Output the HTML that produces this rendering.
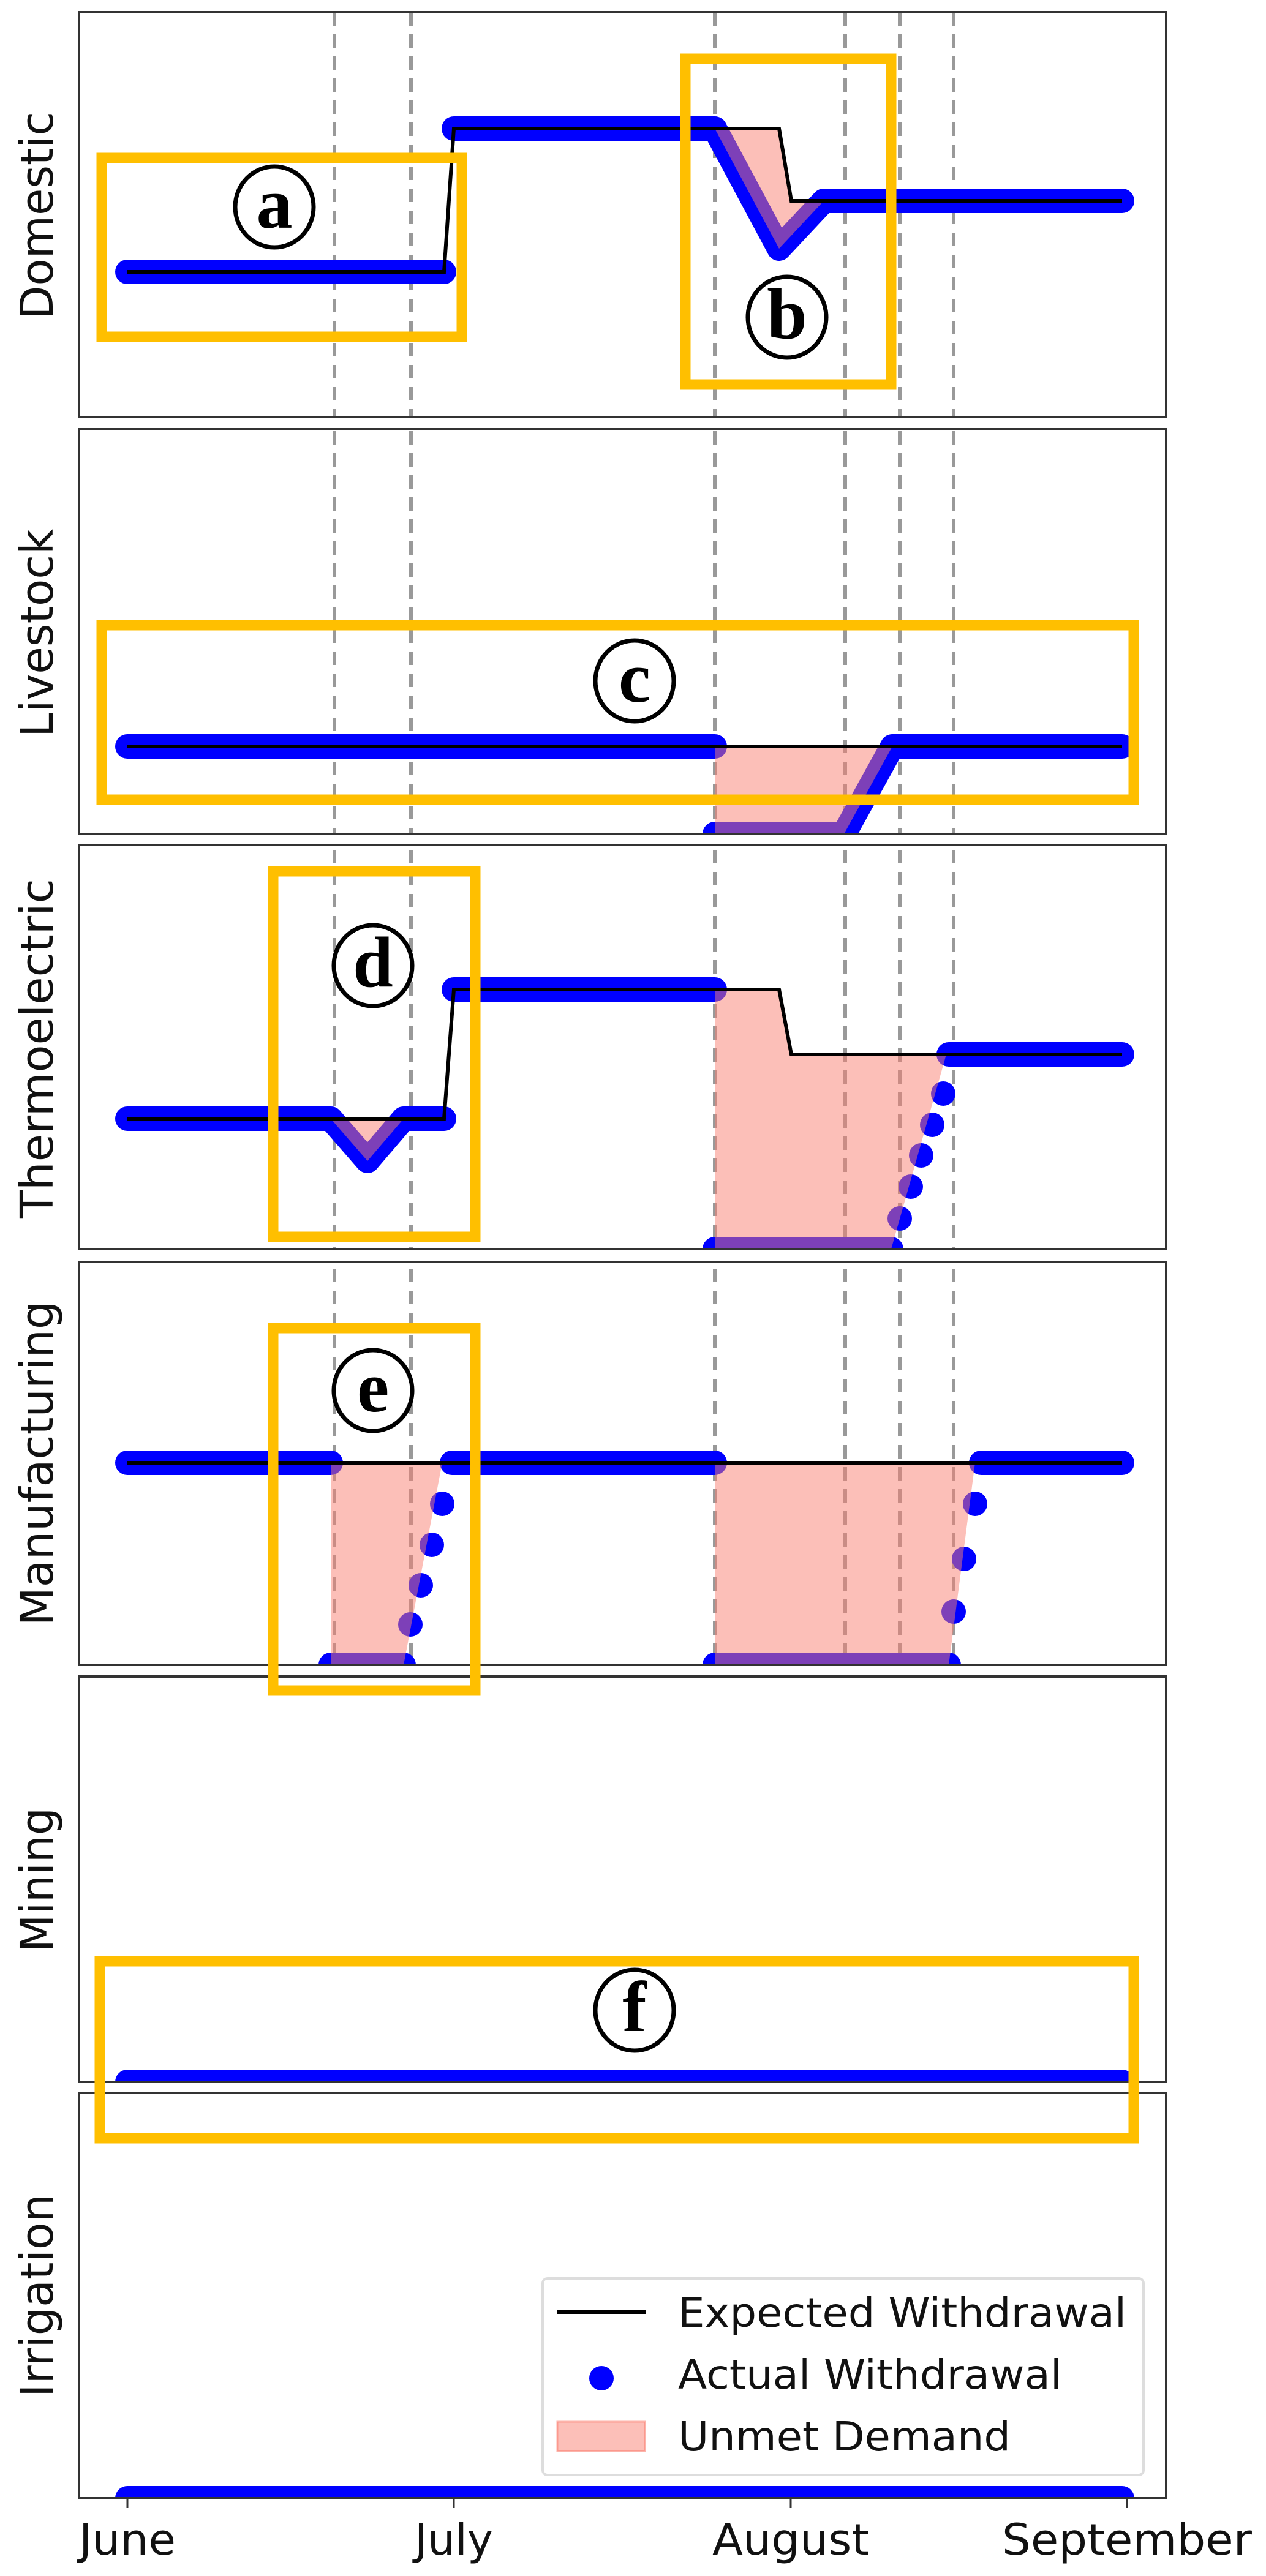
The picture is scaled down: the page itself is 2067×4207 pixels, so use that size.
<!DOCTYPE html>
<html><head><meta charset="utf-8"><style>html,body{margin:0;padding:0;background:#fff}svg{display:block}</style></head>
<body>
<svg width="2067" height="4207" viewBox="0 0 2067 4207" xmlns="http://www.w3.org/2000/svg">
<defs>
<clipPath id="c1"><rect x="129" y="20" width="1775" height="661"/></clipPath>
<clipPath id="c2"><rect x="129" y="701" width="1775" height="661"/></clipPath>
<clipPath id="c3"><rect x="129" y="1380" width="1775" height="660"/></clipPath>
<clipPath id="c4"><rect x="129" y="2061" width="1775" height="658"/></clipPath>
<clipPath id="c5"><rect x="129" y="2738" width="1775" height="662"/></clipPath>
<clipPath id="c6"><rect x="129" y="3418" width="1775" height="662"/></clipPath>
</defs>
<rect width="2067" height="4207" fill="#fff"/>

<!-- dashed lines -->
<g stroke="#999" stroke-width="6" stroke-dasharray="22 14">
<line x1="546" y1="20" x2="546" y2="2719"/>
<line x1="671" y1="20" x2="671" y2="2719"/>
<line x1="1167" y1="20" x2="1167" y2="2719"/>
<line x1="1380" y1="20" x2="1380" y2="2719"/>
<line x1="1469" y1="20" x2="1469" y2="2719"/>
<line x1="1557" y1="20" x2="1557" y2="2719"/>
</g>
<rect x="129" y="681" width="1775" height="20" fill="#fff"/>
<rect x="129" y="1362" width="1775" height="18" fill="#fff"/>
<rect x="129" y="2040" width="1775" height="21" fill="#fff"/>

<g fill="none" stroke="#0000ff" stroke-width="40" stroke-linecap="round" stroke-linejoin="round">
<!-- Domestic -->
<g clip-path="url(#c1)">
<polyline points="208,444 725,444"/>
<polyline points="741,210 1167,210 1272,406 1345,328 1832,328"/>
</g>
<!-- Livestock -->
<g clip-path="url(#c2)">
<polyline points="208,1219 1167,1219"/>
<polyline points="1167,1362 1378,1362 1457,1219 1832,1219"/>
</g>
<!-- Thermo -->
<g clip-path="url(#c3)">
<polyline points="208,1827 540,1827 600,1896 659,1827 725,1827"/>
<polyline points="741,1616 1167,1616"/>
<polyline points="1167,2040 1455,2040"/>
<polyline points="1549,1722 1832,1722"/>
</g>
<!-- Manufacturing -->
<g clip-path="url(#c4)">
<polyline points="208,2389 540,2389"/>
<polyline points="540,2719 659,2719"/>
<polyline points="738,2389 1167,2389"/>
<polyline points="1167,2719 1549,2719"/>
<polyline points="1602,2389 1832,2389"/>
</g>
<g clip-path="url(#c5)"><polyline points="208,3400 1832,3400"/></g>
<g clip-path="url(#c6)"><polyline points="208,4080 1832,4080"/></g>
</g>
<g fill="#0000ff">
<circle cx="1469" cy="1990" r="20"/><circle cx="1487" cy="1938" r="20"/><circle cx="1504" cy="1887" r="20"/><circle cx="1522" cy="1837" r="20"/><circle cx="1540" cy="1786" r="20"/>
<circle cx="670" cy="2653" r="20"/><circle cx="687" cy="2589" r="20"/><circle cx="705" cy="2523" r="20"/><circle cx="722" cy="2456" r="20"/>
<circle cx="1557" cy="2632" r="20"/><circle cx="1574" cy="2546" r="20"/><circle cx="1592" cy="2456" r="20"/>
</g>

<!-- unmet fill -->
<g fill="#fa8072" fill-opacity="0.5">
<polygon points="1167,210 1272,210 1292,328 1345,328 1272,406"/>
<polygon points="1167,1219 1457,1219 1378,1362 1167,1362"/>
<polygon points="540,1827 659,1827 600,1896"/>
<polygon points="1167,1616 1272,1616 1292,1722 1545,1722 1455,2040 1167,2040"/>
<polygon points="540,2389 722,2389 659,2719 540,2719"/>
<polygon points="1167,2389 1592,2389 1549,2719 1167,2719"/>
</g>

<!-- expected -->
<g fill="none" stroke="#000" stroke-width="6" stroke-linejoin="miter">
<polyline points="208,444 725,444 741,210 1272,210 1292,328 1832,328"/>
<polyline points="208,1219 1832,1219"/>
<polyline points="208,1827 725,1827 741,1616 1272,1616 1292,1722 1832,1722"/>
<polyline points="208,2389 1832,2389"/>
</g>

<!-- axes frames -->
<g fill="none" stroke="#333" stroke-width="4">
<rect x="129" y="20" width="1775" height="661"/>
<rect x="129" y="701" width="1775" height="661"/>
<rect x="129" y="1380" width="1775" height="660"/>
<rect x="129" y="2061" width="1775" height="658"/>
<rect x="129" y="2738" width="1775" height="662"/>
<rect x="129" y="3418" width="1775" height="662"/>
</g>
<!-- ticks -->
<g stroke="#333" stroke-width="3">
<line x1="208" y1="4080" x2="208" y2="4096"/>
<line x1="741" y1="4080" x2="741" y2="4096"/>
<line x1="1291" y1="4080" x2="1291" y2="4096"/>
<line x1="1840" y1="4080" x2="1840" y2="4096"/>
</g>
<g font-family="'DejaVu Sans','Liberation Sans',sans-serif" font-size="70" fill="#111" text-anchor="middle">
<text x="208" y="4172" textLength="158" lengthAdjust="spacingAndGlyphs">June</text>
<text x="741" y="4172" textLength="128" lengthAdjust="spacingAndGlyphs">July</text>
<text x="1291" y="4172" textLength="256" lengthAdjust="spacingAndGlyphs">August</text>
<text x="1840" y="4172" textLength="408" lengthAdjust="spacingAndGlyphs">September</text>
</g>
<!-- y labels -->
<g font-family="'DejaVu Sans','Liberation Sans',sans-serif" font-size="74" fill="#111" text-anchor="middle">
<text transform="translate(86,352) rotate(-90)" textLength="340" lengthAdjust="spacingAndGlyphs">Domestic</text>
<text transform="translate(86,1034) rotate(-90)" textLength="340" lengthAdjust="spacingAndGlyphs">Livestock</text>
<text transform="translate(86,1712) rotate(-90)" textLength="554" lengthAdjust="spacingAndGlyphs">Thermoelectric</text>
<text transform="translate(86,2390) rotate(-90)" textLength="531" lengthAdjust="spacingAndGlyphs">Manufacturing</text>
<text transform="translate(86,3070) rotate(-90)" textLength="236" lengthAdjust="spacingAndGlyphs">Mining</text>
<text transform="translate(86,3749) rotate(-90)" textLength="332" lengthAdjust="spacingAndGlyphs">Irrigation</text>
</g>

<!-- legend -->
<rect x="886" y="3721" width="981" height="321" rx="8" fill="#fff" stroke="#ddd" stroke-width="4"/>
<line x1="910" y1="3776" x2="1055" y2="3776" stroke="#000" stroke-width="6"/>
<ellipse cx="982" cy="3884" rx="20" ry="20" fill="#0000ff"/>
<rect x="910" y="3955" width="143" height="48" fill="#fa8072" fill-opacity="0.5" stroke="#fa8072" stroke-opacity="0.6" stroke-width="3"/>
<g font-family="'DejaVu Sans','Liberation Sans',sans-serif" font-size="66" fill="#111">
<text x="1107" y="3800" textLength="732" lengthAdjust="spacingAndGlyphs">Expected Withdrawal</text>
<text x="1107" y="3901" textLength="627" lengthAdjust="spacingAndGlyphs">Actual Withdrawal</text>
<text x="1107" y="4002" textLength="543" lengthAdjust="spacingAndGlyphs">Unmet Demand</text>
</g>

<!-- orange boxes -->
<g fill="none" stroke="#ffbf00" stroke-width="17">
<rect x="166" y="258" width="588" height="292"/>
<rect x="1119" y="96" width="336" height="532"/>
<rect x="166" y="1021" width="1685" height="285"/>
<rect x="446" y="1423" width="330" height="597"/>
<rect x="446" y="2169" width="330" height="592"/>
<rect x="163" y="3203" width="1688" height="289"/>
</g>
<!-- circled letters -->
<g fill="#fff" stroke="#000" stroke-width="7">
<ellipse cx="448" cy="338" rx="64" ry="66"/>
<ellipse cx="1285" cy="518" rx="64" ry="66"/>
<ellipse cx="1036" cy="1112" rx="64" ry="66"/>
<ellipse cx="609" cy="1577" rx="64" ry="66"/>
<ellipse cx="609" cy="2271" rx="64" ry="66"/>
<ellipse cx="1036" cy="3283" rx="64" ry="66"/>
</g>
<g font-family="'Liberation Serif',serif" font-weight="bold" font-size="118" fill="#000" text-anchor="middle">
<text x="448" y="372">a</text>
<text x="1285" y="552">b</text>
<text x="1036" y="1146">c</text>
<text x="609" y="1611">d</text>
<text x="609" y="2305">e</text>
<text x="1036" y="3317">f</text>
</g>
</svg>
</body></html>
